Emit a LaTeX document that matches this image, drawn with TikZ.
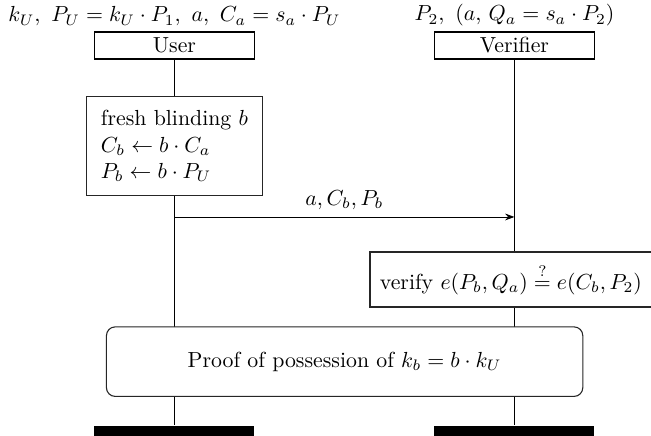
\documentclass[tikz,border=0pt]{standalone}
\usepackage{amsmath,amssymb}
\usetikzlibrary{arrows.meta,positioning,calc,backgrounds}
\tikzset{
  inst/.style={rectangle, draw=black, line width=0.5pt, fill=white,
    minimum width=2.578cm, minimum height=0.435cm, inner sep=1pt},
  act/.style={rectangle, draw=black!85, line width=0.5pt, fill=white, align=left, inner sep=6.5pt},
  cond/.style={rectangle, draw=black!85, line width=0.5pt, fill=white, inner xsep=4.5pt,
    minimum height=0.886cm},
  shared/.style={rectangle, rounded corners=4pt, draw=black!85, line width=0.5pt, fill=white,
    minimum width=7.676cm, minimum height=1.12cm},
  instlabel/.style={inner sep=2.2pt},
  lifeline/.style={line width=0.5pt, draw=black},
  msg/.style={-{Stealth[length=1.5mm, width=1.1mm]}, line width=0.4pt},
  endbar/.style={rectangle, fill=black, minimum width=2.578cm, minimum height=0.22cm, inner sep=0pt},
}

\begin{document}
\begin{tikzpicture}
  \useasboundingbox (0,0) rectangle (10.49,-7.024);
  % instances
  \node[inst] (user) at (2.811,-0.733) {User};
  \node[inst] (ver) at (8.289,-0.733) {Verifier};
  \node[instlabel, above=0pt of user] (ulab) {$k_U,\ P_U = k_U\cdot P_1,\ a,\ C_a = s_a\cdot P_U$};
  \node[instlabel, above=0pt of ver] (vlab) {$P_2,\ (a,\,Q_a = s_a\cdot P_2)$};
  % blinding on the user side
  \node[act] (blind) at (2.811,-2.352) {fresh blinding $b$\\$C_b \leftarrow b\cdot C_a$\\$P_b \leftarrow b\cdot P_U$};
  % message
  \coordinate (msgout) at (2.811,-3.496);
  \coordinate (msgin) at (8.289,-3.496);
  \draw[msg] (msgout) -- node[above] (msglab) {$a, C_b, P_b$} (msgin);
  % check on the verifier side
  \node[cond] (check) at (8.232,-4.503) {verify $e(P_b,Q_a) \stackrel{?}{=} e(C_b,P_2)$};
  % shared proof
  \node[shared] (proof) at (5.553,-5.827) {Proof of possession of $k_b = b\cdot k_U$};
  % ends
  \node[endbar] (uend) at (2.811,-6.973) {};
  \node[endbar] (vend) at (8.289,-6.973) {};
  % lifelines
  \begin{scope}[on background layer]
    \draw[lifeline] (user) -- (uend);
    \draw[lifeline] (ver) -- (vend);
  \end{scope}
\end{tikzpicture}
\end{document}
